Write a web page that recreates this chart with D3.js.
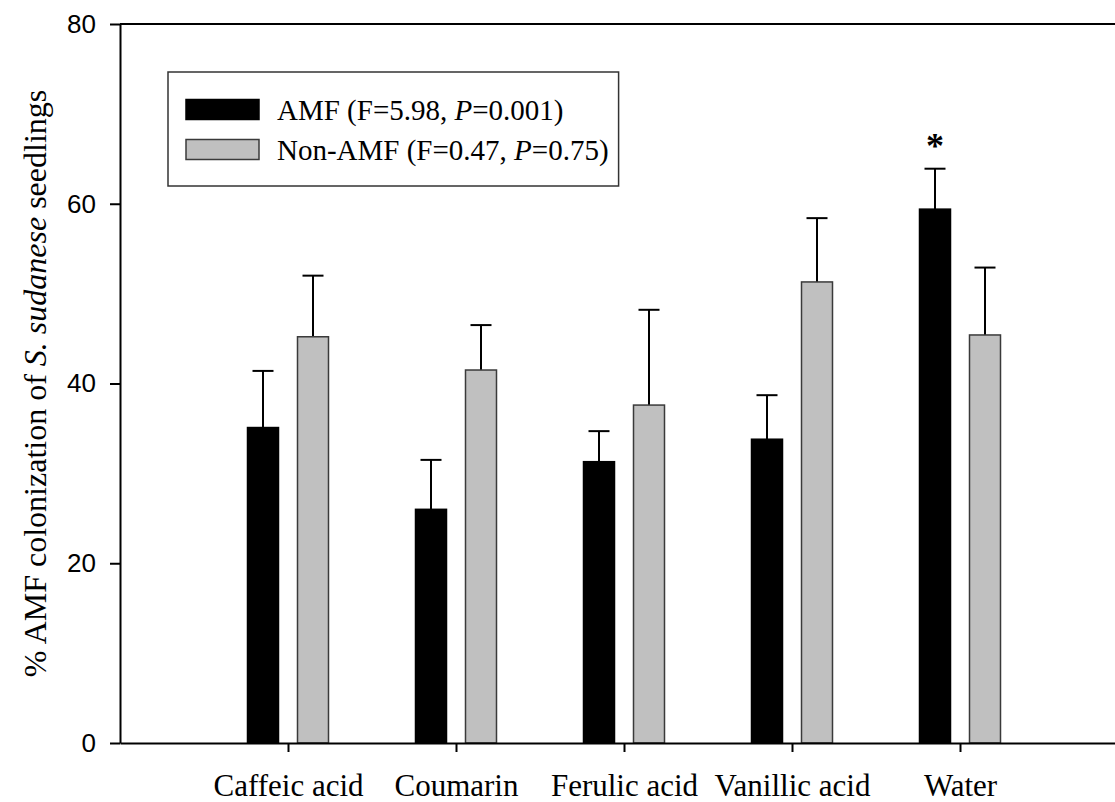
<!DOCTYPE html>
<html>
<head>
<meta charset="utf-8">
<script src="https://cdn.jsdelivr.net/npm/d3@7"></script>
<style>
  html, body { margin: 0; padding: 0; background: #fff; overflow: hidden; }
  svg { display: block; }
</style>
</head>
<body>
<svg id="chart" width="1115" height="802"></svg>
<script>
// Treatments along the x axis
const categories = ["Caffeic acid", "Coumarin", "Ferulic acid", "Vanillic acid", "Water"];
// Mean % colonization and standard errors
const amfMeans = [35.1, 26.0, 31.3, 33.8, 59.4];
const amfErrors = [6.3, 5.5, 3.4, 4.9, 4.5];
const nonAmfMeans = [45.2, 41.5, 37.6, 51.3, 45.4];
const nonAmfErrors = [6.8, 5.0, 10.6, 7.1, 7.5];
const yTicks = [0, 20, 40, 60, 80];
const legendLabels = [
  ["AMF (F=5.98, ", "P", "=0.001)"],
  ["Non-AMF (F=0.47, ", "P", "=0.75)"]
];
const significant = [false, false, false, false, true];

const svg = d3.select("#chart");
const plotLeft = 120, plotRight = 1128, plotTop = 24, plotBottom = 743;
const serif = "Liberation Serif, Times New Roman, serif";

const x = d3.scaleLinear().domain([0, 6]).range([plotLeft, plotRight]);
const y = d3.scaleLinear().domain([0, 80]).range([plotBottom, plotTop]);

const barW = 31, offset = 25;
const series = [
  { means: amfMeans, errs: amfErrors, fill: "#000000", stroke: "#000000", dx: -offset },
  { means: nonAmfMeans, errs: nonAmfErrors, fill: "#c0c0c0", stroke: "#3a3a3a", dx: offset }
];

// Error bars (upper only), drawn behind the bars
series.forEach(s => {
  const g = svg.append("g");
  categories.forEach((c, i) => {
    const cx = x(i + 1) + s.dx;
    const yTop = y(s.means[i] + s.errs[i]);
    g.append("line")
      .attr("x1", cx).attr("x2", cx)
      .attr("y1", y(s.means[i])).attr("y2", yTop)
      .attr("stroke", "#000").attr("stroke-width", 2);
    g.append("line")
      .attr("x1", cx - 10.5).attr("x2", cx + 10.5)
      .attr("y1", yTop).attr("y2", yTop)
      .attr("stroke", "#000").attr("stroke-width", 2);
  });
});

// Bars
series.forEach(s => {
  svg.append("g").selectAll("rect")
    .data(s.means)
    .join("rect")
    .attr("x", (d, i) => x(i + 1) + s.dx - barW / 2)
    .attr("y", d => y(d))
    .attr("width", barW)
    .attr("height", d => y(0) - y(d))
    .attr("fill", s.fill)
    .attr("stroke", s.stroke)
    .attr("stroke-width", 1.5);
});

// Significance marker
categories.forEach((c, i) => {
  if (!significant[i]) return;
  svg.append("text")
    .attr("x", x(i + 1) - offset)
    .attr("y", y(amfMeans[i] + amfErrors[i]) - 11)
    .attr("text-anchor", "middle")
    .attr("font-family", serif)
    .attr("font-weight", "bold")
    .attr("font-size", 36)
    .text("*");
});

// Y axis
const yAxis = d3.axisLeft(y).tickValues(yTicks).tickSize(10).tickSizeOuter(0).tickPadding(14);
const gy = svg.append("g").attr("transform", `translate(${plotLeft},0)`).call(yAxis);
gy.select(".domain").attr("stroke-width", 2);
gy.selectAll(".tick line").attr("stroke-width", 2);
gy.selectAll(".tick text")
  .attr("font-family", "Liberation Sans, Arial, sans-serif")
  .attr("font-size", 26)
  .attr("fill", "#000");

// X axis
const xAxis = d3.axisBottom(x)
  .tickValues(categories.map((c, i) => i + 1))
  .tickFormat((d) => categories[d - 1])
  .tickSize(9).tickSizeOuter(0).tickPadding(22);
const gx = svg.append("g").attr("transform", `translate(0,${plotBottom})`).call(xAxis);
gx.select(".domain").attr("stroke-width", 2);
gx.selectAll(".tick line").attr("stroke-width", 2);
gx.selectAll(".tick text")
  .attr("font-family", serif)
  .attr("font-size", 31)
  .attr("fill", "#000");

// Top frame line
svg.append("line")
  .attr("x1", plotLeft).attr("x2", plotRight)
  .attr("y1", y(80)).attr("y2", y(80))
  .attr("stroke", "#000").attr("stroke-width", 2);

// Y axis title
const yTitle = svg.append("text")
  .attr("transform", `translate(46,${(plotTop + plotBottom) / 2}) rotate(-90)`)
  .attr("text-anchor", "middle")
  .attr("font-family", serif)
  .attr("font-size", 32)
  .attr("fill", "#000");
yTitle.append("tspan").text("% AMF colonization of ");
yTitle.append("tspan").attr("font-style", "italic").text("S. sudanese");
yTitle.append("tspan").text(" seedlings");

// Legend
const lg = svg.append("g");
const lgBox = lg.append("rect")
  .attr("x", 168).attr("y", 72).attr("height", 114)
  .attr("fill", "#fff").attr("stroke", "#333").attr("stroke-width", 1.5);
let maxRight = 0;
series.forEach((s, k) => {
  const sy = 99.5 + k * 40;
  lg.append("rect")
    .attr("x", 186).attr("y", sy).attr("width", 73).attr("height", 20)
    .attr("fill", s.fill).attr("stroke", s.stroke).attr("stroke-width", 1.5);
  const t = lg.append("text")
    .attr("x", 277).attr("y", sy + 20)
    .attr("font-family", serif)
    .attr("font-size", 29)
    .attr("fill", "#000");
  t.append("tspan").text(legendLabels[k][0]);
  t.append("tspan").attr("font-style", "italic").text(legendLabels[k][1]);
  t.append("tspan").text(legendLabels[k][2]);
  const bb = t.node().getBBox();
  maxRight = Math.max(maxRight, bb.x + bb.width);
});
lgBox.attr("width", maxRight + 10 - 168);
</script>
</body>
</html>
